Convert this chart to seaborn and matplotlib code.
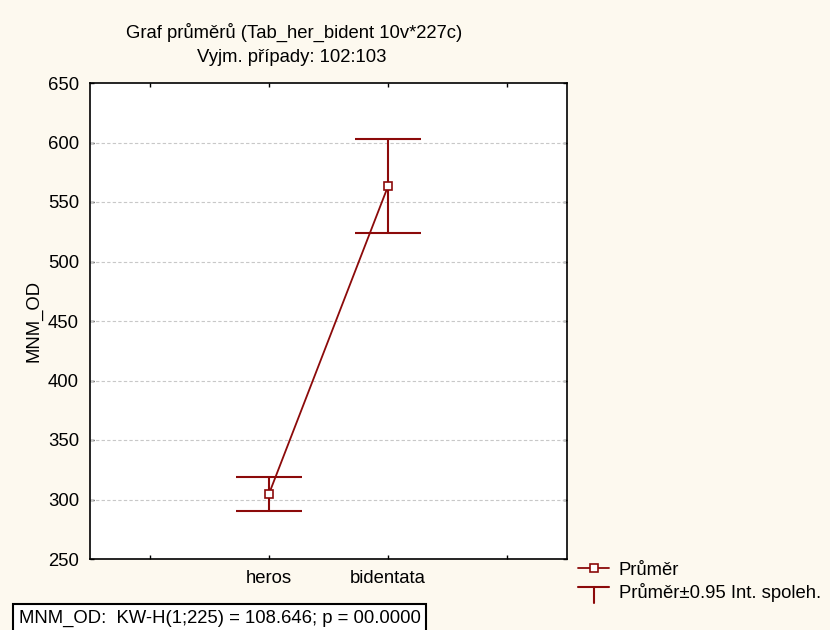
import matplotlib
matplotlib.use("Agg")
import matplotlib.pyplot as plt
import seaborn as sns
import pandas as pd
import numpy as np
from matplotlib.lines import Line2D
from matplotlib.legend_handler import HandlerBase

# ---- data ----
tick_labels = ["", "heros", "bidentata", ""]
groups = ["heros", "bidentata"]
means = [304.5, 563.5]
ci_low = [290.5, 524.0]
ci_high = [318.5, 603.0]
y_ticks = [250, 300, 350, 400, 450, 500, 550, 600, 650]

title1 = "Graf průměrů (Tab_her_bident 10v*227c)"
title2 = "Vyjm. případy: 102:103"
ylabel = "MNM_OD"
stat_text = "MNM_OD:  KW-H(1;225) = 108.646; p = 00.0000"
legend_labels = ["Průměr", "Průměr±0.95 Int. spoleh."]

RED = "#8c0a0a"
BG = "#fdf9ef"
FS = 13.3

sns.set_theme(style="white")
plt.rcParams["font.family"] = ["Liberation Sans", "DejaVu Sans"]
plt.rcParams["text.color"] = "black"

positions = [tick_labels.index(g) + 1 for g in groups]
df = pd.DataFrame({"pos": positions, "mean": means, "lo": ci_low, "hi": ci_high})

fig = plt.figure(figsize=(8.3, 6.3), dpi=100, facecolor=BG)
ax = fig.add_axes([90/830, 1 - 559/630, (567-90)/830, (559-83)/630])
ax.set_facecolor("white")

# error bars (CI)
ax.errorbar(df["pos"], df["mean"],
            yerr=[df["mean"] - df["lo"], df["hi"] - df["mean"]],
            fmt="none", ecolor=RED, elinewidth=1.5, capsize=24, capthick=1.5, zorder=3)

# mean line with markers
sns.lineplot(data=df, x="pos", y="mean", ax=ax, color=RED, lw=1.3,
             marker="s", markersize=6, markerfacecolor="white",
             markeredgecolor=RED, markeredgewidth=1.2, zorder=4)

ax.set_xlim(0.5, len(tick_labels) + 0.5)
ax.set_xticks(range(1, len(tick_labels) + 1))
ax.set_xticklabels(tick_labels)
ax.set_ylim(y_ticks[0], y_ticks[-1])
ax.set_yticks(y_ticks)
ax.set_xlabel("")
ax.set_ylabel(ylabel, fontsize=FS, color="black", labelpad=4)
ax.tick_params(axis="both", which="both", direction="in", length=3, width=1,
               colors="black", labelcolor="black", labelsize=FS,
               top=True, right=True, bottom=True, left=True, pad=8)
for g in y_ticks[1:-1]:
    ax.axhline(g, color="#c8c8c8", lw=0.8, ls=(0, (3, 2)), zorder=1)
for s in ax.spines.values():
    s.set_color("black")
    s.set_linewidth(1.2)

# titles
fig.text(294/830, 1 - 32/630, title1, ha="center", va="center", fontsize=FS, color="black")
fig.text(292/830, 1 - 58/630, title2, ha="center", va="center", fontsize=FS, color="black")

# legend
class HandlerT(HandlerBase):
    def create_artists(self, legend, orig_handle, xdescent, ydescent, width, height, fontsize, trans):
        ytop = height * 0.85 - ydescent
        xm = width / 2 - xdescent
        l1 = Line2D([-xdescent, width - xdescent], [ytop, ytop], color=RED, lw=1.5, transform=trans)
        l2 = Line2D([xm, xm], [ytop, -ydescent - height * 0.45], color=RED, lw=1.5, transform=trans)
        return [l1, l2]

class TMarker:
    pass

h1 = Line2D([], [], color=RED, lw=1.3, marker="s", markersize=6,
            markerfacecolor="white", markeredgecolor=RED, markeredgewidth=1.2)
h2 = TMarker()
leg = fig.legend([h1, h2], legend_labels, handler_map={TMarker: HandlerT()},
                 loc="upper left", bbox_to_anchor=(565/830, 1 - 549/630),
                 frameon=False, fontsize=FS, handlelength=1.7, handletextpad=0.5,
                 labelspacing=0.2, borderpad=0.2, numpoints=1)
for t in leg.get_texts():
    t.set_color("black")

# stat box
fig.text(19/830, 1 - 618/630, stat_text, ha="left", va="center", fontsize=FS, color="black",
         bbox=dict(boxstyle="square,pad=0.3", fc="white", ec="black", lw=1.5))

fig.savefig("out.png", dpi=100, facecolor=BG)
